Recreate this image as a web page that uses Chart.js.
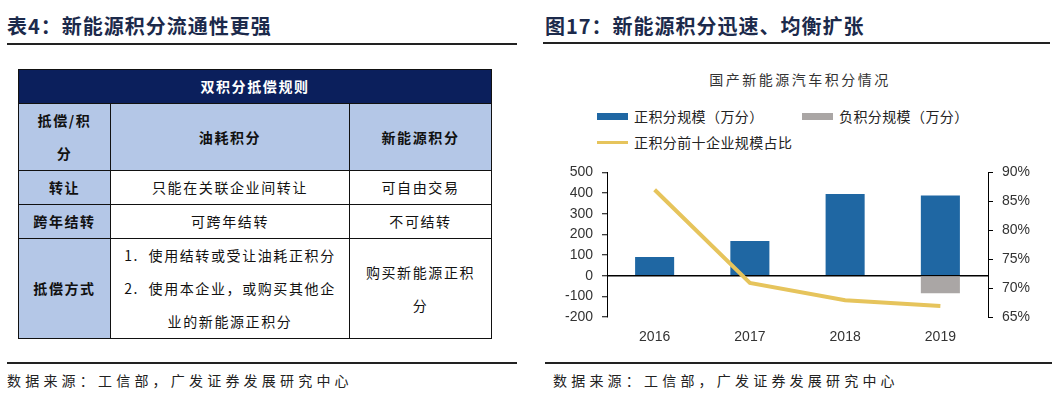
<!DOCTYPE html>
<html>
<head>
<meta charset="utf-8">
<script src="https://cdn.jsdelivr.net/npm/chart.js@4.4.1/dist/chart.umd.min.js"></script>
<style>
  html, body { margin: 0; padding: 0; background: #fff; }
  body { width: 1055px; height: 403px; position: relative; overflow: hidden;
         font-family: "Noto Sans CJK SC", "Noto Sans", sans-serif; color: #222; }
  .title { position: absolute; top: 11px; font-size: 20px; font-weight: 700;
           color: #1c2a4b; letter-spacing: 1px; white-space: nowrap; }
  .rule { position: absolute; height: 1.5px; background: #222; }
  .source { position: absolute; top: 370px; font-size: 14px; letter-spacing: 4.2px; color: #222; white-space: nowrap; }
  table { position: absolute; left: 18px; top: 69px; width: 473px; border-collapse: collapse;
          table-layout: fixed; font-size: 14px; letter-spacing: 1.6px; }
  td { border: 1px solid #111; text-align: center; padding: 0; color: #111; line-height: 33px; }
  .head { background: #0b1f5c; color: #fff; font-weight: 700; }
  .lb { background: #b4c7e7; font-weight: 700; }
  .chart-title { position: absolute; left: 700px; top: 69px; width: 200px; text-align: center;
                 font-size: 14px; letter-spacing: 2.5px; color: #333; white-space: nowrap; }
  .legend { position: absolute; font-size: 14px; color: #222; white-space: nowrap; letter-spacing: 0.4px; }
  .legend span.sw { position: absolute; left: 0; width: 31px; }
  .legend span.tx { position: absolute; left: 37px; top: 0; line-height: 20px; }
  #wrap { position: absolute; left: 548px; top: 155px; width: 500px; height: 202px; }
</style>
</head>
<body>
<div class="title" style="left:7px;">表4：新能源积分流通性更强</div>
<div class="rule" style="left:7px; top:43px; width:510px;"></div>

<table>
  <colgroup><col style="width:92px"><col style="width:239px"><col style="width:142px"></colgroup>
  <tr style="height:34px"><td class="head" colspan="3">双积分抵偿规则</td></tr>
  <tr style="height:66px"><td class="lb">抵偿/积<br>分</td><td class="lb">油耗积分</td><td class="lb">新能源积分</td></tr>
  <tr style="height:34px"><td class="lb">转让</td><td>只能在关联企业间转让</td><td>可自由交易</td></tr>
  <tr style="height:33px"><td class="lb">跨年结转</td><td>可跨年结转</td><td>不可结转</td></tr>
  <tr style="height:99px"><td class="lb">抵偿方式</td><td>1.&nbsp;&nbsp;使用结转或受让油耗正积分<br>2.&nbsp;&nbsp;使用本企业，或购买其他企<br>业的新能源正积分</td><td>购买新能源正积<br>分</td></tr>
</table>

<div class="rule" style="left:7px; top:362px; width:510px;"></div>
<div class="source" style="left:7px;">数据来源：工信部，广发证券发展研究中心</div>

<div class="title" style="left:545px;">图17：新能源积分迅速、均衡扩张</div>
<div class="rule" style="left:543px; top:42px; width:507px;"></div>

<div class="chart-title">国产新能源汽车积分情况</div>
<div id="legend"></div>

<div id="wrap"><canvas id="creditChart"></canvas></div>

<div class="rule" style="left:545px; top:362px; width:507px;"></div>
<div class="source" style="left:553px;">数据来源：工信部，广发证券发展研究中心</div>

<script>
// 数据
const years = ['2016', '2017', '2018', '2019'];
const positiveCredits = [91, 168, 395, 388];
const negativeCredits = [null, null, null, -85];
const top10Share = [87.0, 70.9, 67.9, 66.9];

const seriesNames = ['正积分规模（万分）', '负积分规模（万分）', '正积分前十企业规模占比'];
const seriesColors = ['#1f67a3', '#aaa6a5', '#e6c45c'];

const leftMin = -200, leftMax = 500, leftStep = 100;
const rightMin = 65, rightMax = 90, rightStep = 5;

// 图例 (HTML)
const legendItems = [
    { x: 597, y: 106, h: 7 },
    { x: 802, y: 106, h: 7 },
    { x: 597, y: 132, h: 3 }
];
const legendBox = document.getElementById('legend');
legendItems.forEach((it, i) => {
    const d = document.createElement('div');
    d.className = 'legend';
    d.style.left = it.x + 'px';
    d.style.top = it.y + 'px';
    d.innerHTML = '<span class="sw" style="top:' + (10 - it.h / 2) + 'px;height:' + it.h +
        'px;background:' + seriesColors[i] + '"></span><span class="tx">' + seriesNames[i] + '</span>';
    legendBox.appendChild(d);
});

const tickFont = { family: '"Liberation Sans", Arial, sans-serif', size: 14 };

new Chart(document.getElementById('creditChart'), {
    data: {
        labels: years,
        datasets: [
            {
                type: 'line',
                label: seriesNames[2],
                data: top10Share,
                yAxisID: 'y1',
                borderColor: seriesColors[2],
                backgroundColor: seriesColors[2],
                borderWidth: 4,
                pointRadius: 0,
                tension: 0,
                order: 0
            },
            {
                type: 'bar',
                label: seriesNames[0],
                data: positiveCredits,
                yAxisID: 'y',
                backgroundColor: seriesColors[0],
                barPercentage: 0.41,
                categoryPercentage: 1,
                order: 1
            },
            {
                type: 'bar',
                label: seriesNames[1],
                data: negativeCredits,
                yAxisID: 'y',
                backgroundColor: seriesColors[1],
                barPercentage: 0.41,
                categoryPercentage: 1,
                order: 1
            }
        ]
    },
    options: {
        responsive: true,
        maintainAspectRatio: false,
        animation: false,
        layout: { padding: { top: 11 } },
        plugins: {
            legend: { display: false },
            tooltip: { enabled: false }
        },
        scales: {
            x: {
                stacked: true,
                grid: { display: false, drawTicks: false },
                border: { display: false },
                ticks: { font: tickFont, color: '#333', padding: 12 },
                afterFit: function(scale) { scale.height = 40; }
            },
            y: {
                stacked: true,
                position: 'left',
                min: leftMin,
                max: leftMax,
                z: 1,
                border: { display: true, color: '#000', width: 1 },
                grid: {
                    color: function(ctx) { return ctx.tick && ctx.tick.value === 0 ? '#000' : 'rgba(0,0,0,0)'; },
                    lineWidth: 1.5,
                    tickColor: '#000',
                    tickWidth: 1,
                    tickLength: 5
                },
                ticks: { stepSize: leftStep, font: tickFont, color: '#333', padding: 9 },
                afterFit: function(scale) { scale.width = 59; }
            },
            y1: {
                position: 'right',
                min: rightMin,
                max: rightMax,
                border: { display: true, color: '#000', width: 1 },
                grid: { drawOnChartArea: false, tickColor: '#000', tickLength: 5 },
                ticks: {
                    stepSize: rightStep,
                    font: tickFont,
                    color: '#333',
                    padding: 9,
                    callback: function(value) { return value + '%'; }
                },
                afterFit: function(scale) { scale.width = 60; }
            }
        }
    }
});
</script>
</body>
</html>
